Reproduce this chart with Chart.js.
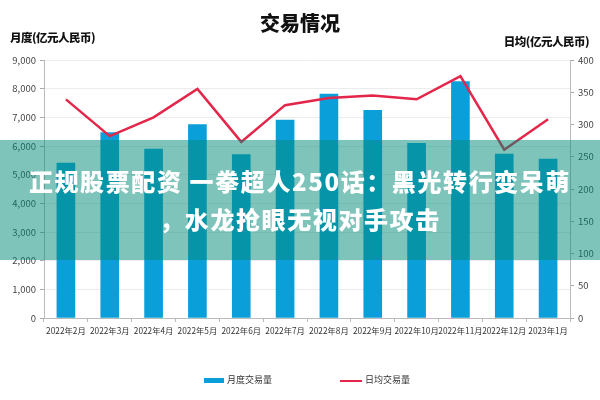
<!DOCTYPE html>
<html>
<head>
<meta charset="utf-8">
<script src="https://cdn.jsdelivr.net/npm/chart.js@4.4.1/dist/chart.umd.min.js"></script>
<style>
  html, body { margin: 0; padding: 0; background: #fff; }
  #wrap { position: relative; width: 600px; height: 400px; overflow: hidden; font-family: "Liberation Sans Narrow", "Noto Sans CJK SC", sans-serif; }
  canvas { position: absolute; left: 0; top: 0; }
  .t { position: absolute; white-space: nowrap; color: #111; font-family: "Noto Sans CJK SC", sans-serif; }
  #title { left: 0; width: 600px; top: 8px; text-align: center; font-size: 20px; font-weight: 900; }
  #lt { left: 10px; top: 29px; font-size: 11.5px; font-weight: 900; letter-spacing: -0.5px; }
  #rt { right: 11px; top: 33px; font-size: 11.5px; font-weight: 900; letter-spacing: -0.5px; }
  #legend { position: absolute; top: 373px; left: 0; width: 600px; font-size: 9px; color: #333; font-family: "Noto Sans CJK SC", sans-serif; }
  .li { position: absolute; top: 0; height: 14px; line-height: 14px; white-space: nowrap; }
  .sw { display: inline-block; vertical-align: middle; margin-right: 3px; }
  #banner { position: absolute; left: 0; top: 140px; width: 600px; height: 120px; background: rgba(0,138,118,0.5); color: #fff; font-family: "Noto Sans CJK SC", sans-serif; font-weight: 900; font-size: 24px; letter-spacing: 1.6px; text-align: center; line-height: 38px; box-sizing: border-box; padding-top: 22px; }
</style>
</head>
<body>
<div id="wrap">
  <canvas id="c" width="600" height="400"></canvas>
  <div class="t" id="title">交易情况</div>
  <div class="t" id="lt">月度(亿元人民币)</div>
  <div class="t" id="rt">日均(亿元人民币)</div>
  <div id="legend">
    <div class="li" style="left:204px"><span class="sw" style="width:20px;height:5px;background:#0b9fda"></span>月度交易量</div>
    <div class="li" style="left:340px"><span class="sw" style="width:22px;height:2px;background:#e3264a"></span>日均交易量</div>
  </div>
  <div id="banner">正规股票配资 一拳超人250话：黑光转行变呆萌<br>，水龙抢眼无视对手攻击</div>
</div>
<script>
const categories = ["2022年2月","2022年3月","2022年4月","2022年5月","2022年6月","2022年7月","2022年8月","2022年9月","2022年10月","2022年11月","2022年12月","2023年1月"];
const monthlyVolume = [5400, 6470, 5890, 6750, 5700, 6900, 7815, 7240, 6090, 8250, 5720, 5540];
const dailyAverage = [339, 282, 311, 355, 273, 330, 341, 345, 339, 375, 261, 308];
const seriesNames = ["月度交易量", "日均交易量"];

const tickFont = { family: "'Liberation Sans Narrow', 'Noto Sans CJK SC', sans-serif", size: 9.5 };
const xTickFont = { family: "'Liberation Sans Narrow', 'Noto Sans CJK SC', sans-serif", size: 8.3 };

new Chart(document.getElementById('c'), {
  data: {
    labels: categories,
    datasets: [
      {
        type: 'line', label: seriesNames[1], data: dailyAverage, yAxisID: 'y1',
        borderColor: '#e3264a', borderWidth: 2.5, pointRadius: 0, tension: 0, order: 0
      },
      {
        type: 'bar', label: seriesNames[0], data: monthlyVolume, yAxisID: 'y',
        backgroundColor: '#0b9fda', barThickness: 18, order: 1
      }
    ]
  },
  options: {
    responsive: false,
    animation: false,
    layout: { padding: { top: 60, bottom: 52, left: 0, right: 0 } },
    plugins: { legend: { display: false }, title: { display: false }, tooltip: { enabled: false } },
    scales: {
      x: {
        offset: true,
        grid: { display: true, drawOnChartArea: false, offset: true, tickLength: 4, color: '#bbb' },
        border: { display: true, color: '#bbb' },
        ticks: { font: xTickFont, color: '#333', maxRotation: 0, autoSkip: false, padding: 4 },
        afterFit(s) { s.height = 30; }
      },
      y: {
        position: 'left', min: 0, max: 9000,
        ticks: { stepSize: 1000, font: tickFont, color: '#444', padding: 4,
          callback: v => v.toLocaleString('en-US') },
        grid: { color: '#ececec', tickColor: '#aaa', tickLength: 4 },
        border: { display: true, color: '#bbb' },
        afterFit(s) { s.width = 44; }
      },
      y1: {
        position: 'right', min: 0, max: 400,
        ticks: { stepSize: 50, font: tickFont, color: '#444', padding: 4 },
        grid: { drawOnChartArea: false, tickColor: '#aaa', tickLength: 4 },
        border: { display: true, color: '#bbb' },
        afterFit(s) { s.width = 30; }
      }
    }
  }
});
</script>
</body>
</html>
